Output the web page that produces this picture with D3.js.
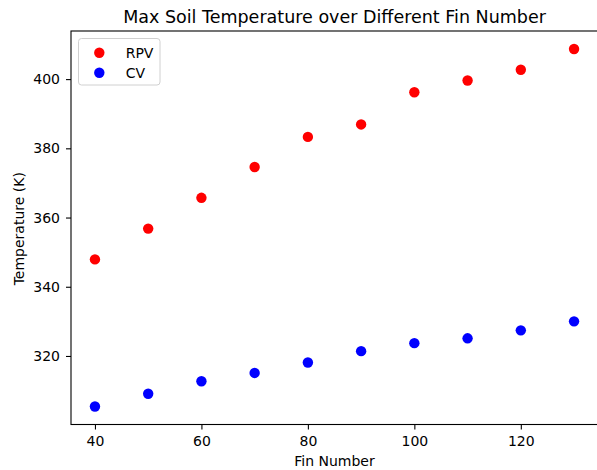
<!DOCTYPE html>
<html>
<head>
<meta charset="utf-8">
<script src="https://cdn.jsdelivr.net/npm/d3@7"></script>
<style>
  html, body { margin: 0; padding: 0; background: #fff; }
  svg { display: block; }
  text { font-family: "DejaVu Sans", sans-serif; fill: #000; }
</style>
</head>
<body>
<svg id="chart" width="597" height="470"></svg>
<script>
const finNumbers = [40, 50, 60, 70, 80, 90, 100, 110, 120, 130];
const rpvTemps = [347.9, 356.8, 365.7, 374.6, 383.3, 386.9, 396.2, 399.6, 402.7, 408.7];
const cvTemps = [305.4, 309.1, 312.7, 315.1, 318.1, 321.4, 323.7, 325.1, 327.4, 330.0];
const xTicks = [40, 60, 80, 100, 120];
const yTicks = [320, 340, 360, 380, 400];
const seriesNames = ["RPV", "CV"];
const seriesColors = ["#ff0000", "#0000ff"];

const svg = d3.select("#chart");
const mLeft = 71, mRight = 598, mTop = 31, mBottom = 424.5;

const x = d3.scaleLinear().domain([35.5, 134.5]).range([mLeft, mRight]);
const y = d3.scaleLinear().domain([300.2, 413.9]).range([mBottom, mTop]);

// Points
const series = [rpvTemps, cvTemps];
series.forEach((vals, si) => {
  svg.append("g").selectAll("circle")
    .data(finNumbers.map((f, i) => [f, vals[i]]))
    .join("circle")
    .attr("cx", d => x(d[0]))
    .attr("cy", d => y(d[1]))
    .attr("r", 5.2)
    .attr("fill", seriesColors[si]);
});

// Axes
const xAxis = d3.axisBottom(x).tickValues(xTicks).tickSize(5).tickPadding(7).tickSizeOuter(0);
const yAxis = d3.axisLeft(y).tickValues(yTicks).tickSize(5).tickPadding(6).tickSizeOuter(0);

const gx = svg.append("g").attr("transform", `translate(0,${mBottom})`).call(xAxis);
const gy = svg.append("g").attr("transform", `translate(${mLeft},0)`).call(yAxis);
[gx, gy].forEach(g => {
  g.select(".domain").remove();
  g.selectAll("line").attr("stroke", "#000").attr("stroke-width", 1.1);
  g.selectAll("text").attr("font-size", 14).attr("font-family", "DejaVu Sans, sans-serif").attr("fill", "#222");
});

// Spines
svg.append("rect")
  .attr("x", mLeft).attr("y", mTop)
  .attr("width", mRight - mLeft).attr("height", mBottom - mTop)
  .attr("fill", "none").attr("stroke", "#000").attr("stroke-width", 1.1);

// Title
svg.append("text")
  .attr("x", (mLeft + mRight) / 2).attr("y", 23)
  .attr("text-anchor", "middle").attr("font-size", 17.5)
  .text("Max Soil Temperature over Different Fin Number");

// Axis labels
svg.append("text")
  .attr("x", (mLeft + mRight) / 2).attr("y", 466)
  .attr("text-anchor", "middle").attr("font-size", 14)
  .text("Fin Number");

svg.append("text")
  .attr("transform", `translate(23.5,228.7) rotate(-90)`)
  .attr("text-anchor", "middle").attr("font-size", 14)
  .text("Temperature (K)");

// Legend
const lg = svg.append("g");
lg.append("rect")
  .attr("x", 78.5).attr("y", 38.5).attr("width", 81.5).attr("height", 46.5)
  .attr("rx", 3).attr("fill", "#fff").attr("fill-opacity", 0.8)
  .attr("stroke", "#d0d0d0").attr("stroke-width", 1);
seriesNames.forEach((name, i) => {
  const cy = 52.7 + i * 20;
  lg.append("circle").attr("cx", 99.3).attr("cy", cy).attr("r", 5.2).attr("fill", seriesColors[i]);
  lg.append("text").attr("x", 125.7).attr("y", cy + 4.8).attr("font-size", 14).text(name);
});
</script>
</body>
</html>
